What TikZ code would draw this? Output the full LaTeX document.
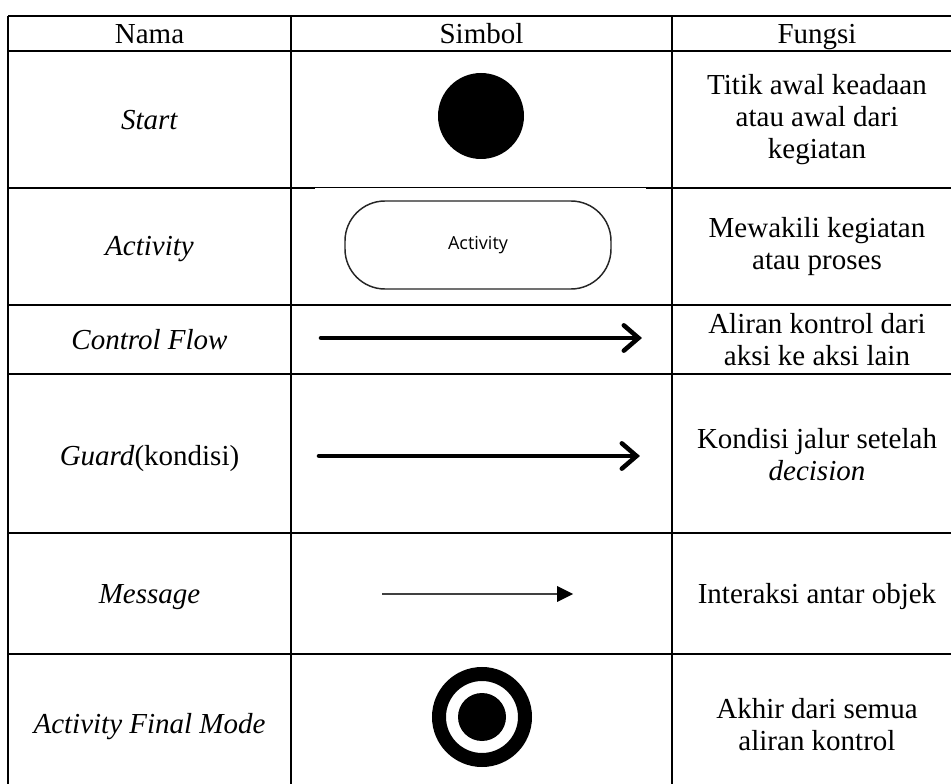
\documentclass[tikz,border=0pt]{standalone}
\usepackage{fontspec}
\setmainfont{Liberation Serif}
\newfontfamily\actfont{Open Sans}
\begin{document}
\begin{tikzpicture}[x=0.75pt,y=-0.75pt,
  gridline/.style={line width=1.8pt, black},
  txt/.style={font=\fontsize{21.75}{24}\selectfont, align=center, inner sep=0pt},
  txtone/.style={txt, text height=15pt, text depth=5pt},
  thickarrow/.style={line width=3.4pt, line cap=round, line join=round},
  chev/.style={line width=3.4pt, line cap=round, line join=miter}]
\useasboundingbox (0,0) rectangle (951,784);
\fill[white] (0,0) rectangle (951,784);
% table grid
\foreach \yy in {16,51,188,305,374,533,654}
  \draw[gridline] (8,\yy) -- (951,\yy);
\foreach \xx in {8,291,672}
  \draw[gridline] (\xx,16) -- (\xx,784);
\fill[white] (315,188.4) rectangle (646,196);
% texts
\node[txtone] (h1) at (149.5,37) {Nama};
\node[txtone] (h2) at (481.5,37) {Simbol};
\node[txtone] (h3) at (817,37) {Fungsi};
\node[txtone] (n1) at (149.5,122.5) {\textit{Start}};
\node[txt] (f1) at (817,119.5) {Titik awal keadaan\\atau awal dari\\kegiatan};
\node[txtone] (n2) at (149.5,249) {\textit{Activity}};
\node[txt] (f2) at (817,246.5) {Mewakili kegiatan\\atau proses};
\node[txtone] (n3) at (149.5,342.5) {\textit{Control Flow}};
\node[txt] (f3) at (817,340) {Aliran kontrol dari\\aksi ke aksi lain};
\node[txtone] (n4) at (149.5,458.5) {\textit{Guard}(kondisi)};
\node[txt] (f4) at (817,455) {Kondisi jalur setelah\\\textit{decision}};
\node[txtone] (n5) at (149.5,596.5) {\textit{Message}};
\node[txtone] (f5) at (817,596.5) {Interaksi antar objek};
\node[txtone] (n6) at (149.5,726.5) {\textit{Activity Final Mode}};
\node[txt] (f6) at (817,725) {Akhir dari semua\\aliran kontrol};
% start symbol
\node[circle, fill=black, minimum size=64.5pt, inner sep=0pt] (start) at (481,116) {};
% activity symbol
\node[draw=black!85, line width=1.1pt, rounded corners=30pt, minimum width=199.5pt,
      minimum height=66pt, inner sep=0pt, font=\actfont\fontsize{13.5}{15}\selectfont] (act) at (478,245) {Activity};
% control flow
\coordinate (c1) at (321,338);
\coordinate (c2) at (638.5,338);
\draw[thickarrow] (c1) -- (c2);
\draw[chev] ([xshift=-11pt,yshift=9.5pt]c2) -- (c2) -- ([xshift=-11pt,yshift=-9.5pt]c2);
% guard
\coordinate (g1) at (319,456);
\coordinate (g2) at (636.5,456);
\draw[thickarrow] (g1) -- (g2);
\draw[chev] ([xshift=-11pt,yshift=9.5pt]g2) -- (g2) -- ([xshift=-11pt,yshift=-9.5pt]g2);
% message
\coordinate (m1) at (382,594);
\coordinate (m2) at (573,594);
\draw[line width=1.5pt, black!75] (m1) -- ([xshift=-8pt]m2);
\fill[black] (m2) -- ++(-12pt,6pt) -- ++(0,-12pt) -- cycle;
% final node
\node[circle, draw=black, line width=10.5pt, minimum size=64.5pt, inner sep=0pt] (fin) at (482,717) {};
\node[circle, fill=black, minimum size=36pt, inner sep=0pt] (fincore) at (fin) {};
\end{tikzpicture}
\end{document}
